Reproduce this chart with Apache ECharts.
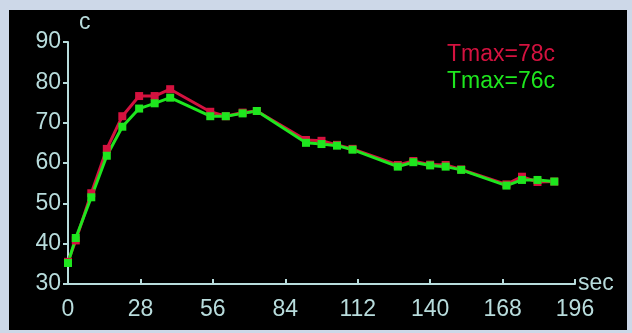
<!DOCTYPE html>
<html>
<head>
<meta charset="utf-8">
<script src="https://cdn.jsdelivr.net/npm/echarts@6/dist/echarts.min.js"></script>
<style>
html,body{margin:0;padding:0;width:632px;height:333px;background:#cdd8e8;overflow:hidden;}
#chart{position:absolute;left:9px;top:10px;width:618px;height:320px;background:#000;}
</style>
</head>
<body>
<div id="chart"></div>
<script>
const times = [0, 3, 9, 15, 21, 27.5, 33.5, 39.5, 55, 61, 67.5, 73, 92, 98, 104, 110, 127.5, 133.5, 140, 146, 152, 169.5, 175.5, 181.5, 188];
const redTemps = [35.5, 40.8, 52.5, 63.5, 71.6, 76.6, 76.6, 78.3, 72.7, 71.6, 72.5, 72.9, 65.7, 65.5, 64.5, 63.5, 59.5, 60.5, 59.6, 59.5, 58.4, 54.7, 56.6, 55.3, 55.4];
const greenTemps = [35.2, 41.4, 51.5, 61.8, 69.0, 73.5, 74.8, 76.2, 71.6, 71.6, 72.3, 72.9, 65.0, 64.7, 64.3, 63.3, 59.1, 60.2, 59.4, 59.1, 58.3, 54.4, 55.8, 55.8, 55.4];
const seriesNames = ['Tmax=78c', 'Tmax=76c'];
const xTicks = [0, 28, 56, 84, 112, 140, 168, 196];
const yTicks = [30, 40, 50, 60, 70, 80, 90];

const RED = '#d4123f';
const GREEN = '#1ee61e';
const AXIS = '#b8dcdc';
const FONT = 'Liberation Sans';

const chart = echarts.init(document.getElementById('chart'), null, {renderer: 'canvas'});
const pairs = (ys) => times.map((t, i) => [t, ys[i]]);

chart.setOption({
  backgroundColor: '#000',
  animation: false,
  grid: {left: 59, top: 32, right: 52, bottom: 46, containLabel: false},
  legend: {
    orient: 'vertical', left: 428, top: 28, itemGap: 4,
    icon: 'none', itemWidth: 0, itemHeight: 10,
    selectedMode: false,
    data: [
      {name: seriesNames[0], textStyle: {color: RED}},
      {name: seriesNames[1], textStyle: {color: GREEN}}
    ],
    textStyle: {fontSize: 23, fontFamily: FONT}
  },
  xAxis: {
    type: 'value', min: xTicks[0], max: xTicks[xTicks.length - 1], interval: 28,
    name: 'sec', nameLocation: 'end', nameGap: 3,
    nameTextStyle: {color: AXIS, fontSize: 23, fontFamily: FONT, padding: [8, 0, 0, 0]},
    axisLine: {show: true, lineStyle: {color: AXIS, width: 2}},
    axisTick: {show: true, inside: true, length: 5, lineStyle: {color: AXIS, width: 2}},
    axisLabel: {color: AXIS, fontSize: 23, fontFamily: FONT, margin: 14},
    splitLine: {show: false}
  },
  yAxis: {
    type: 'value', min: yTicks[0], max: yTicks[yTicks.length - 1], interval: 10,
    name: 'c', nameLocation: 'end', nameGap: 8,
    nameTextStyle: {color: AXIS, fontSize: 23, fontFamily: FONT, align: 'left', padding: [0, 0, 0, 11]},
    axisLine: {show: true, lineStyle: {color: AXIS, width: 2}},
    axisTick: {show: true, inside: false, length: 5, lineStyle: {color: AXIS, width: 2}},
    axisLabel: {color: AXIS, fontSize: 23, fontFamily: FONT, margin: 7},
    splitLine: {show: false}
  },
  series: [
    {
      name: seriesNames[0], type: 'line', data: pairs(redTemps),
      symbol: 'rect', symbolSize: 8, showSymbol: true,
      lineStyle: {color: RED, width: 3}, itemStyle: {color: RED}
    },
    {
      name: seriesNames[1], type: 'line', data: pairs(greenTemps),
      symbol: 'rect', symbolSize: 8, showSymbol: true,
      lineStyle: {color: GREEN, width: 3}, itemStyle: {color: GREEN}
    }
  ]
});
</script>
</body>
</html>
